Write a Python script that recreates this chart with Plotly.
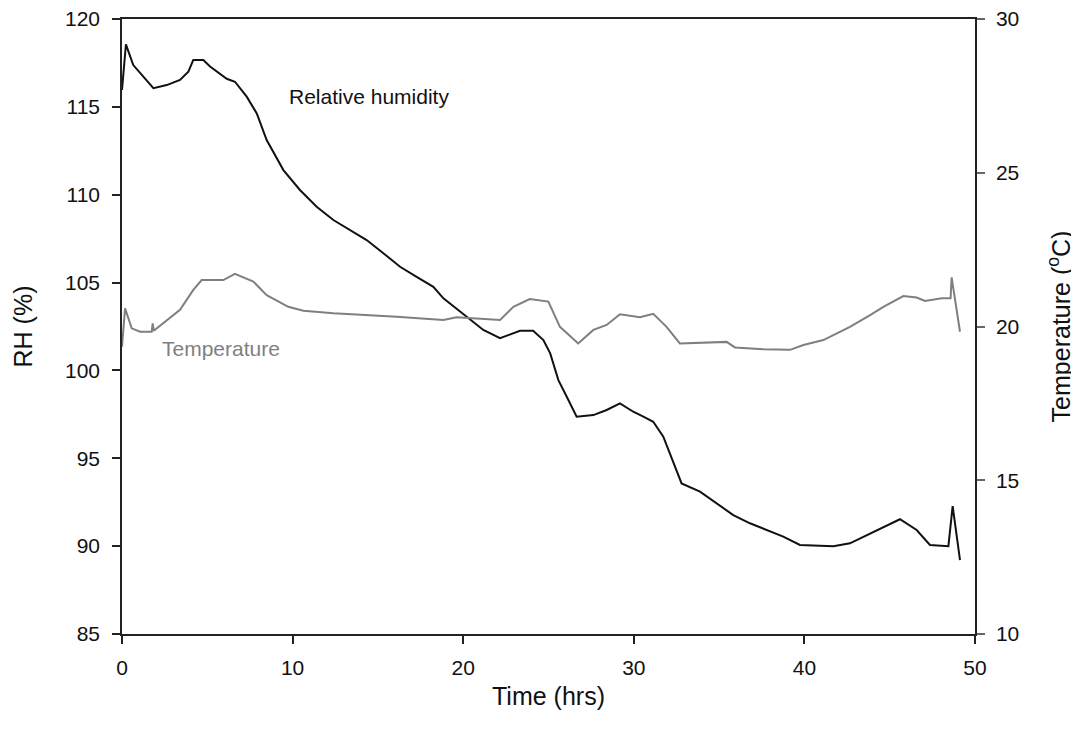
import plotly.graph_objects as go

# Relative humidity (%) vs time (hrs)
rh_time = [0.0, 0.23, 0.66, 1.25, 1.84, 2.62, 3.4, 3.89, 4.18, 4.77, 5.16, 6.14, 6.62, 7.31, 7.9,
           8.48, 9.46, 10.43, 11.41, 12.39, 13.36, 14.34, 15.32, 16.3, 17.27, 18.25, 18.84, 20.2,
           21.18, 22.16, 22.94, 23.33, 24.1, 24.7, 25.1, 25.58, 26.07, 26.65, 27.63, 28.41, 29.19,
           29.97, 30.56, 31.14, 31.73, 32.32, 32.8, 33.88, 34.85, 35.83, 36.81, 37.78, 38.76, 39.74,
           41.7, 42.67, 43.65, 44.82, 45.6, 46.58, 47.36, 48.44, 48.69, 49.12]
rh_vals = [115.96, 118.56, 117.38, 116.72, 116.06, 116.24, 116.53, 117.0, 117.67, 117.67, 117.3,
           116.6, 116.43, 115.58, 114.63, 113.11, 111.4, 110.27, 109.32, 108.56, 107.99, 107.42,
           106.67, 105.9, 105.33, 104.76, 104.1, 103.06, 102.3, 101.83, 102.11, 102.26, 102.26,
           101.73, 100.97, 99.45, 98.5, 97.37, 97.46, 97.75, 98.13, 97.65, 97.37, 97.08, 96.23,
           94.71, 93.57, 93.1, 92.44, 91.77, 91.3, 90.92, 90.54, 90.07, 90.0, 90.16, 90.63, 91.2,
           91.53, 90.92, 90.07, 90.0, 92.28, 89.2]

# Temperature (°C) vs time (hrs)
t_time = [0.0, 0.18, 0.57, 1.06, 1.74, 1.8, 1.86, 2.62, 3.4, 4.18, 4.67, 5.94, 6.62, 7.7, 8.48,
          9.75, 10.63, 12.39, 16.1, 18.84, 19.62, 22.16, 22.94, 23.9, 24.99, 25.67, 26.74, 27.63,
          28.41, 29.19, 30.36, 31.14, 31.92, 32.7, 35.44, 35.93, 37.59, 39.16, 39.94, 41.11, 42.67,
          43.85, 44.63, 45.8, 46.58, 47.07, 48.05, 48.57, 48.63, 49.12]
t_vals = [19.34, 20.59, 19.94, 19.83, 19.83, 20.1, 19.86, 20.21, 20.54, 21.19, 21.51, 21.51, 21.71,
          21.46, 21.02, 20.64, 20.51, 20.43, 20.32, 20.21, 20.3, 20.21, 20.64, 20.89, 20.81, 19.99,
          19.45, 19.89, 20.05, 20.4, 20.3, 20.41, 19.99, 19.45, 19.5, 19.32, 19.26, 19.24, 19.4,
          19.56, 19.99, 20.37, 20.64, 20.99, 20.94, 20.83, 20.92, 20.92, 21.6, 19.83]

x_ticks = [0, 10, 20, 30, 40, 50]
rh_ticks = [85, 90, 95, 100, 105, 110, 115, 120]
temp_ticks = [10, 15, 20, 25, 30]

FONT = "Liberation Sans, Arial, sans-serif"
AX = "#222222"

fig = go.Figure()
fig.add_trace(go.Scatter(x=t_time, y=t_vals, mode="lines", yaxis="y2",
                         line=dict(color="#7f7f7f", width=2), showlegend=False))
fig.add_trace(go.Scatter(x=rh_time, y=rh_vals, mode="lines",
                         line=dict(color="#111111", width=2), showlegend=False))

fig.add_annotation(x=9.67, y=115.6, xref="x", yref="y", text="Relative humidity",
                   showarrow=False, xanchor="left", yanchor="middle",
                   font=dict(family=FONT, size=21, color="#111111"))
fig.add_annotation(x=2.23, y=19.3, xref="x", yref="y2", text="Temperature",
                   showarrow=False, xanchor="left", yanchor="middle",
                   font=dict(family=FONT, size=21, color="#7f7f7f"))

fig.update_layout(
    width=1071, height=726,
    margin=dict(l=114, r=104, t=11, b=100),
    paper_bgcolor="white", plot_bgcolor="white",
    font=dict(family=FONT, size=21, color="#111111"),
    xaxis=dict(range=[0, 50], tickvals=x_ticks, ticks="outside", ticklen=8, tickwidth=1.5,
               tickcolor=AX, showline=True, linecolor=AX, linewidth=1.5, mirror=True,
               showgrid=False, zeroline=False, ticklabelstandoff=6, automargin=False,
               ticklabeloverflow="allow",
               title=dict(text="Time (hrs)", font=dict(size=25), standoff=10)),
    yaxis=dict(range=[85, 120], tickvals=rh_ticks, ticks="outside", ticklen=8, tickwidth=1.5,
               tickcolor=AX, showline=True, linecolor=AX, linewidth=1.5,
               showgrid=False, zeroline=False, ticklabelstandoff=8, automargin=False,
               ticklabeloverflow="allow",
               title=dict(text="RH (%)", font=dict(size=25), standoff=25)),
    yaxis2=dict(range=[10, 30], tickvals=temp_ticks, ticks="outside", ticklen=8, tickwidth=1.5,
                tickcolor="#666666", showline=True, linecolor=AX, linewidth=1.5,
                overlaying="y", side="right", showgrid=False, zeroline=False,
                ticklabelstandoff=7, automargin=False, ticklabeloverflow="allow",
                title=dict(text="Temperature (<sup>o</sup>C)", font=dict(size=25), standoff=34)),
)

fig.write_html("out.html")
